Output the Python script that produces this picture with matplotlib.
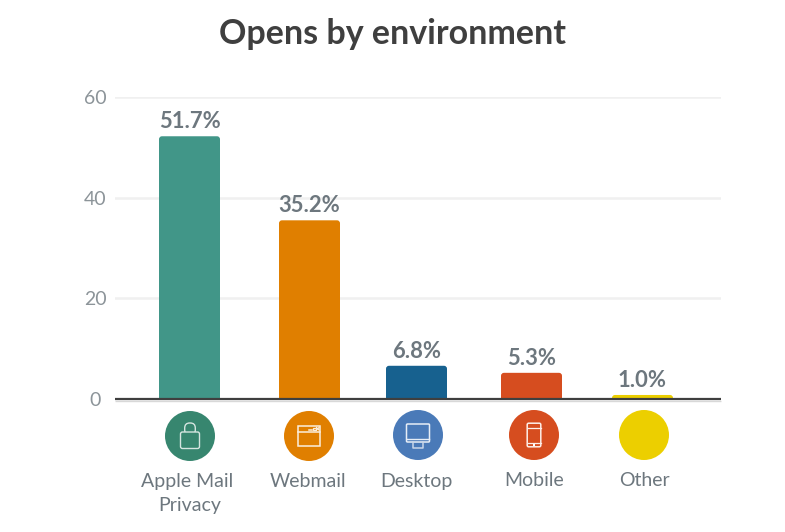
import matplotlib
matplotlib.use('Agg')
import matplotlib.pyplot as plt
from matplotlib.patches import Circle, Rectangle, FancyBboxPatch

plt.rcParams['font.family'] = ['Lato', 'DejaVu Sans']

categories = ['Apple Mail\nPrivacy', 'Webmail', 'Desktop', 'Mobile', 'Other']
values = [52.2, 35.5, 6.6, 5.2, 0.8]
value_labels = ['51.7%', '35.2%', '6.8%', '5.3%', '1.0%']
yticks = [0, 20, 40, 60]

bar_colors = ['#419688', '#e07f00', '#17618f', '#d64d1f', '#eccf00']
icon_colors = ['#37866f', '#e07f00', '#4a7ab8', '#d64d1f', '#eccf00']
bar_centers = [189.5, 309.5, 416.5, 531.5, 642.5]
icon_centers = [(190, 436), (309, 436), (418, 435), (534, 435), (644, 435)]
# one x per text line, baselines are 24 px apart
label_x = [(187.5, 190), (308,), (416,), (534,), (644,)]
label_base = [487, 487, 486.5, 486, 486]
bar_width = 61

W, H = 785, 532
fig = plt.figure(figsize=(W / 100, H / 100), dpi=100)

# plot area in pixels: x 115-721, y=60 at 97 and y=0 at 399
ax = fig.add_axes([115 / W, 1 - 399 / H, 606 / W, 302 / H])
ax.set_xlim(115, 721)
ax.set_ylim(0, 60)
ax.set_facecolor('none')
for s in ax.spines.values():
    s.set_visible(False)
ax.set_xticks([])
ax.set_yticks(yticks)
ax.tick_params(axis='y', length=0, pad=14, labelsize=14, labelcolor='#8c9499')
for t in ax.get_yticklabels():
    t.set_ha('center')
ax.grid(axis='y', color='#f0f0f0', lw=1.8, zorder=0)
ax.set_axisbelow(True)

px_per_unit = 302 / 60
bars = ax.bar(bar_centers, values, width=bar_width, color='none')
for b, c, lab in zip(bars, bar_colors, value_labels):
    r = 3
    h = b.get_height()
    rr = min(r, h * px_per_unit)
    patch = FancyBboxPatch((b.get_x() + rr, 0), b.get_width() - 2 * rr, h - rr / px_per_unit,
                           boxstyle='round,pad=%f,rounding_size=%f' % (rr, rr),
                           mutation_aspect=1 / px_per_unit, fc=c, ec='none', zorder=3, clip_on=True)
    ax.add_patch(patch)
    ax.text(b.get_x() + b.get_width() / 2, h + 4 / px_per_unit, lab, ha='center', va='bottom',
            fontsize=15.8, fontweight='bold', color='#6d777e')

# overlay in image pixels for baseline, icons and labels
ov = fig.add_axes([0, 0, 1, 1])
ov.set_xlim(0, W)
ov.set_ylim(H, 0)
ov.axis('off')
ov.set_facecolor('none')

ov.plot([115, 721], [400.5, 400.5], color='#d8d8d8', lw=1, solid_capstyle='butt')
ov.plot([115, 721], [399.3, 399.3], color='#3f3f3f', lw=1.6, solid_capstyle='butt')

ov.text(392.5, 34, 'Opens by environment', ha='center', va='center', fontsize=24.5,
        fontweight='bold', color='#3f3f3f')

for (cx, cy), c in zip(icon_centers, icon_colors):
    ov.add_patch(Circle((cx, cy), 25, fc=c, ec='none'))

# padlock, shackle is a rounded box hidden behind the body
cx, cy = icon_centers[0]
lock = '#d5e5e0'
ov.add_patch(FancyBboxPatch((cx - 5.3, cy - 13), 10.6, 12, boxstyle='round,pad=0,rounding_size=5',
                            fc='none', ec=lock, lw=1))
ov.add_patch(FancyBboxPatch((cx - 8, cy - 2.5), 16, 13.5, boxstyle='round,pad=1.5,rounding_size=2',
                            fc=icon_colors[0], ec=lock, lw=1))
# browser window
cx, cy = icon_centers[1]
ov.add_patch(Rectangle((cx - 11, cy - 10), 22, 20, fc='none', ec='#fbeedd', lw=1.1))
ov.plot([cx - 11, cx + 11], [cy - 4, cy - 4], color='#fbeedd', lw=1.1)
ov.plot([cx, cx + 3], [cy - 6, cy - 6], color='#fbeedd', lw=1.1)
ov.add_patch(Rectangle((cx + 4, cy - 8.5), 2.5, 2.5, fc='none', ec='#fbeedd', lw=0.9))
ov.plot([cx + 7.5, cx + 10], [cy - 8.5, cy - 6], color='#fbeedd', lw=0.9)
ov.plot([cx + 7.5, cx + 10], [cy - 6, cy - 8.5], color='#fbeedd', lw=0.9)
# monitor
cx, cy = icon_centers[2]
ov.add_patch(FancyBboxPatch((cx - 11, cy - 10.5), 22, 17, boxstyle='round,pad=0.5,rounding_size=1',
                            fc='none', ec='#e6edf6', lw=1.1))
ov.plot([cx - 11, cx + 11], [cy + 3.5, cy + 3.5], color='#e6edf6', lw=1)
ov.plot([cx - 5, cx - 5, cx + 5, cx + 5], [cy + 7, cy + 13, cy + 13, cy + 7], color='#c8d6e9', lw=1.1)
# phone
cx, cy = icon_centers[3]
ov.add_patch(FancyBboxPatch((cx - 6.5, cy - 11.5), 13, 23, boxstyle='round,pad=0.3,rounding_size=1.5',
                            fc='none', ec='#fdeee8', lw=1.1))
ov.plot([cx - 6.5, cx + 6.5], [cy - 7.5, cy - 7.5], color='#fdeee8', lw=0.9)
ov.plot([cx - 6.5, cx + 6.5], [cy + 7.5, cy + 7.5], color='#fdeee8', lw=0.9)
ov.add_patch(Rectangle((cx - 1.3, cy + 8.5), 2.6, 2.4, fc='#ffffff', ec='none'))

for xs, lab, base in zip(label_x, categories, label_base):
    for i, (x, line) in enumerate(zip(xs, lab.split('\n'))):
        ov.text(x, base + 24 * i, line, ha='center', va='baseline', fontsize=14, color='#6d777e')

fig.savefig('out.png', dpi=100)
